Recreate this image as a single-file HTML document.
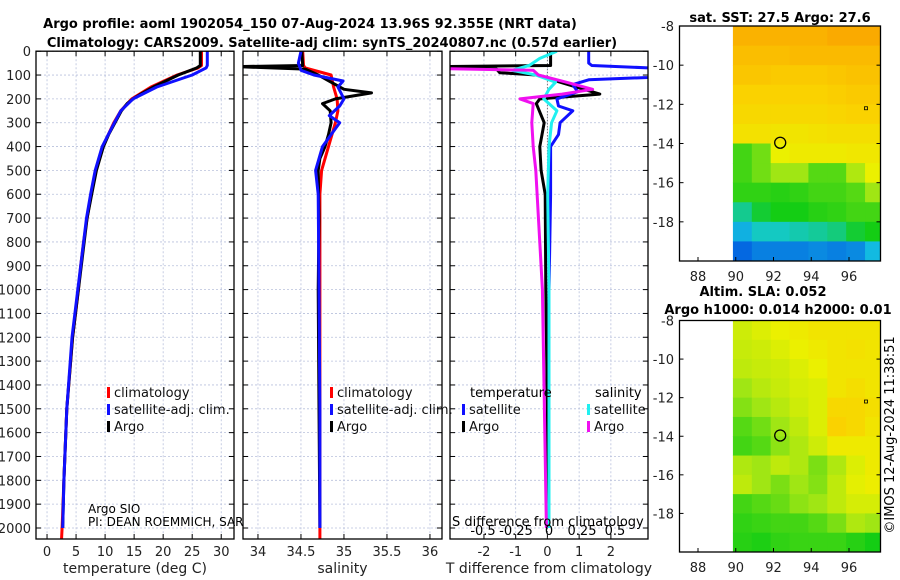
<!DOCTYPE html>
<html><head><meta charset="utf-8"><style>
body{margin:0;background:#fff;width:900px;height:580px;overflow:hidden}
svg{font-family:"DejaVu Sans","Liberation Sans",sans-serif;display:block}
</style></head><body>
<svg id="c" width="900" height="580" viewBox="0 0 900 580">
<text x="310" y="28" text-anchor="middle" font-weight="bold" font-size="13">Argo profile: aoml 1902054_150 07-Aug-2024 13.96S 92.355E (NRT data)</text>
<text x="332" y="47" text-anchor="middle" font-weight="bold" font-size="13">Climatology: CARS2009. Satellite-adj clim: synTS_20240807.nc (0.57d earlier)</text>
<text x="780" y="22" text-anchor="middle" font-weight="bold" font-size="13">sat. SST: 27.5 Argo: 27.6</text>
<text x="763" y="296" text-anchor="middle" font-weight="bold" font-size="13">Altim. SLA: 0.052</text>
<text x="778" y="314" text-anchor="middle" font-weight="bold" font-size="13">Argo h1000: 0.014 h2000: 0.01</text>
<text transform="translate(894,435) rotate(-90)" text-anchor="middle" font-size="13">©IMOS 12-Aug-2024 11:38:51</text>
<g id="g"></g>
</svg>
<script>
// ---- data ----
const depthTicks=[0,100,200,300,400,500,600,700,800,900,1000,1100,1200,1300,1400,1500,1600,1700,1800,1900,2000];
const tempTicks=[0,5,10,15,20,25,30];
const salTicks=[34,34.5,35,35.5,36];
const salTickLabels=["34","34.5","35","35.5","36"];
const tdiffTicks=[-2,-1,0,1,2];
const sdiffTicks=[-0.5,-0.25,0,0.25,0.5];
const sdiffTickLabels=["-0.5","-0.25","0","0.25","0.5"];
const argoDepth=[0,60,70,100,150,175,200,220,250,300,350,400,500,600,700,800,900,1000,1200,1500,1800,2000];
const argoTemp=[26.4,26.4,25.8,22.6,18.3,16.5,14.8,13.8,12.8,11.7,10.6,9.7,8.5,7.7,6.9,6.4,5.9,5.4,4.4,3.4,2.9,2.7];
const climDepth=[0,60,70,100,150,200,250,300,400,500,600,700,800,900,1000,1200,1500,1800,2000,2050];
const climTemp=[26.6,26.6,26.0,22.4,17.9,14.6,12.7,11.5,9.6,8.4,7.6,6.9,6.3,5.8,5.4,4.4,3.4,2.9,2.6,2.5];
const satTemp=[27.6,27.6,27.4,25.0,18.9,14.8,12.7,11.6,9.5,8.3,7.5,6.8,6.3,5.8,5.3,4.3,3.4,2.9,2.7,null];
const argoSDepth=[0,60,64,66,75,100,130,160,175,200,220,250,300,350,400,450,500,700,1000,1500,2000];
const argoSal=[34.51,34.52,33.83,33.83,34.55,34.7,34.85,35.0,35.32,34.9,34.75,34.84,34.85,34.82,34.78,34.72,34.70,34.71,34.70,34.71,34.72];
const climSDepth=[0,60,70,100,150,200,250,300,400,500,600,1000,1500,2000,2050];
const climSal=[34.52,34.53,34.55,34.85,34.88,34.92,34.93,34.9,34.82,34.74,34.72,34.72,34.72,34.72,34.72];
const satSDepth=[0,50,80,100,125,150,200,230,270,300,350,400,500,600,1000,1500,2000];
const satSal=[34.5,34.47,34.5,34.65,34.99,34.93,35.0,34.95,34.83,34.95,34.85,34.75,34.67,34.7,34.71,34.72,34.72];
const dDepth=[0,60,64,66,75,90,100,130,180,200,220,300,400,500,600,1000,1500,2000];
const tdiffArgo=[0.1,0.1,-3.1,-3.1,-1.6,-1.5,-0.34,0.4,1.65,-0.24,-0.35,-0.1,-0.24,-0.2,-0.07,-0.05,0,0];
const tdSatDepth=[0,50,60,70,100,110,120,140,170,200,230,250,300,350,400,600,1000,2000];
const tdiffSat=[1.3,1.3,1.4,3.2,3.2,3.2,1.3,0.8,0.95,0.3,0.35,0.8,0.4,0.35,0.1,0.1,0.05,0.05];
const sdSatDepth=[0,30,60,80,100,130,160,200,250,300,400,600,1000,2000];
const sdiffSat=[0.06,-0.07,-0.15,-0.28,-0.1,0.05,0.0,-0.04,0.06,0.02,0.0,-0.01,0,0];
const sdArgoDepth=[64,66,80,100,130,160,180,200,220,300,400,500,1000,2000];
const sdiffArgo=[-1.5,-1.5,-0.12,-0.08,0.13,0.33,0.1,-0.22,-0.12,-0.13,-0.12,-0.1,-0.05,-0.02];
const lonTicks=[88,90,92,94,96];
const latTicks=[-8,-10,-12,-14,-16,-18];
const gridLons=[89.85,90.85,91.85,92.85,93.85,94.85,95.85,96.85];
const gridLats=[-8,-9,-10,-11,-12,-13,-14,-15,-16,-17,-18,-19];
const sstGrid=[
[.88,.88,.88,.88,.88,.9,.9,.9],[.85,.85,.85,.86,.86,.86,.86,.86],[.83,.83,.82,.82,.82,.83,.84,.84],
[.8,.8,.8,.8,.8,.81,.82,.82],[.78,.78,.78,.78,.78,.79,.8,.8],[.75,.75,.74,.74,.75,.76,.76,.76],
[.5,.55,.7,.72,.72,.72,.73,.73],[.5,.55,.6,.6,.52,.52,.62,.7],[.48,.48,.47,.48,.5,.5,.52,.6],
[.33,.42,.45,.45,.47,.48,.5,.5],[.2,.28,.28,.3,.32,.35,.42,.45],[.05,.1,.1,.1,.12,.1,.12,.22]];
const slaGrid=[
[.66,.68,.7,.72,.74,.74,.74,.74],[.65,.66,.68,.7,.72,.74,.75,.74],[.64,.65,.66,.68,.7,.74,.74,.74],
[.6,.63,.65,.67,.68,.74,.76,.74],[.57,.6,.63,.66,.68,.78,.78,.76],[.52,.55,.6,.64,.68,.8,.78,.74],
[.5,.52,.58,.62,.66,.72,.72,.72],[.62,.6,.64,.62,.56,.62,.68,.72],[.64,.6,.56,.6,.57,.64,.69,.71],
[.5,.52,.54,.58,.6,.64,.67,.67],[.48,.49,.5,.5,.52,.56,.62,.6],[.47,.46,.48,.49,.49,.49,.47,.45]];
const argoLon=92.355, argoLat=-13.96;

// ---- helpers ----
const NS="http://www.w3.org/2000/svg";const G=document.getElementById('g');
function el(t,a,p){const e=document.createElementNS(NS,t);for(const k in a)e.setAttribute(k,a[k]);(p||G).appendChild(e);return e;}
const yTop=51.2,pxm=0.2384,yBot=539;
const y=d=>yTop+d*pxm;
function lin(d0,d1,r0,r1){return v=>r0+(v-d0)/(d1-d0)*(r1-r0);}
const panels=[
 {x0:36,x1:234,sx:lin(-1.9,32.2,36,234),ticks:tempTicks,labels:tempTicks.map(String),title:'temperature (deg C)',name:'temperature'},
 {x0:243,x1:442,sx:lin(33.826,36.14,243,442),ticks:salTicks,labels:salTickLabels,title:'salinity',name:'salinity'},
 {x0:450,x1:648,sx:lin(-3.07,3.17,450,648),ticks:tdiffTicks,labels:tdiffTicks.map(String),title:'T difference from climatology',name:'difference'}];
const sS=lin(-1.5,1.5,351,747);
const ct=el('clipPath',{id:'ct'});el('rect',{x:0,y:500,width:243,height:40},ct);
panels.forEach((P,i)=>{
 const cp=el('clipPath',{id:'cp'+i});el('rect',{x:P.x0,y:yTop,width:P.x1-P.x0,height:yBot-yTop},cp);
 const r=el('rect',{x:P.x0,y:yTop,width:P.x1-P.x0,height:yBot-yTop,fill:'#fff'});
 
 
 depthTicks.forEach(d=>{el('line',{x1:P.x0,x2:P.x1,y1:y(d),y2:y(d),stroke:'#b8c0dc','stroke-dasharray':'2,2','stroke-width':0.8});
  el('line',{x1:P.x0,x2:P.x0+5,y1:y(d),y2:y(d),stroke:'#000'});el('line',{x1:P.x1-5,x2:P.x1,y1:y(d),y2:y(d),stroke:'#000'});});
 P.ticks.forEach((tv,j)=>{const X=P.sx(tv);
  el('line',{x1:X,x2:X,y1:yTop,y2:yBot,stroke:'#b8c0dc','stroke-dasharray':'2,2','stroke-width':0.8});
  el('line',{x1:X,x2:X,y1:yBot,y2:yBot-5,stroke:'#000'});el('line',{x1:X,x2:X,y1:yTop,y2:yTop+5,stroke:'#000'});
  const tx=el('text',{x:X,y:556,'text-anchor':'middle','font-size':13,fill:'#222'});tx.textContent=P.labels[j];
  
  });
 const tt=el('text',{x:(P.x0+P.x1)/2,y:573,'text-anchor':'middle','font-size':14,fill:'#222'});tt.textContent=P.title;
 
 
});
depthTicks.forEach(d=>{const tl=el('text',{x:31,y:y(d)+5,'text-anchor':'end','font-size':13,fill:'#222'});tl.textContent=d;
 
 });
function line(ds,vs,sx,col,clip,name,w){let p='',pen=false;ds.forEach((d,k)=>{const v=vs[k];if(v==null){pen=false;return;}p+=(pen?'L':'M')+sx(v).toFixed(1)+','+y(d).toFixed(1);pen=true;});
 const e=el('path',{d:p,fill:'none',stroke:col,'stroke-width':w||3,'clip-path':'url(#cp'+clip+')','stroke-linejoin':'round'});
 
 }
const P0=panels[0].sx,P1=panels[1].sx,P2=panels[2].sx;
line(climDepth,climTemp,P0,'#f00',0,'temp-climatology-line');
line(argoDepth,argoTemp,P0,'#000',0,'temp-argo-line');
line(climDepth,satTemp,P0,'#1010ff',0,'temp-satellite-line');
line(climSDepth,climSal,P1,'#f00',1,'sal-climatology-line');
line(argoSDepth,argoSal,P1,'#000',1,'sal-argo-line');
line(satSDepth,satSal,P1,'#1010ff',1,'sal-satellite-line');
el('line',{x1:P2(0),x2:P2(0),y1:yTop,y2:yBot,stroke:'#555','stroke-dasharray':'1,2'});
line(dDepth,tdiffArgo,P2,'#000',2,'tdiff-argo-line');
line(tdSatDepth,tdiffSat,P2,'#1010ff',2,'tdiff-satellite-line');
line(sdSatDepth,sdiffSat,sS,'#20f0f0',2,'sdiff-satellite-line');
line(sdArgoDepth,sdiffArgo,sS,'#f010f0',2,'sdiff-argo-line');
panels.forEach(P=>{el('rect',{x:P.x0,y:yTop,width:P.x1-P.x0,height:yBot-yTop,fill:'none',stroke:'#000','stroke-width':1.3});});
function leg(x,yy,col,txt,name){el('rect',{x:x-3,y:yy-10,width:3,height:11,fill:col});const lt=el('text',{x:x+4,y:yy,'font-size':13,fill:'#111'});lt.textContent=txt;
 
 }
leg(110,397,'#f00','climatology','legend-climatology');leg(110,414,'#1010ff','satellite-adj. clim.','legend-satellite-adj');leg(110,431,'#000','Argo','legend-argo');
leg(333,397,'#f00','climatology','legend-sal-climatology');leg(333,414,'#1010ff','satellite-adj. clim.','legend-sal-satellite-adj');leg(333,431,'#000','Argo','legend-sal-argo');
let tx2=el('text',{x:470,y:397,'font-size':13});tx2.textContent='temperature';


tx2=el('text',{x:595,y:397,'font-size':13});tx2.textContent='salinity';


leg(465,414,'#1010ff','satellite','legend-tdiff-satellite');leg(465,431,'#000','Argo','legend-tdiff-argo');
leg(590,414,'#20f0f0','satellite','legend-sdiff-satellite');leg(590,431,'#f010f0','Argo','legend-sdiff-argo');
tx2=el('text',{x:88,y:513,'font-size':12});tx2.textContent='Argo SIO';


tx2=el('text',{x:88,y:526,'font-size':12,'clip-path':'url(#ct)'});tx2.textContent='PI: DEAN ROEMMICH, SARAH PURKEY';


tx2=el('text',{x:452,y:526,'font-size':13});tx2.textContent='S difference from climatology';


sdiffTicks.forEach((s,j)=>{const q=el('text',{x:sS(s),y:535,'text-anchor':'middle','font-size':13});q.textContent=sdiffTickLabels[j];
 
 });
const stops=[[0,[0,80,225]],[0.25,[20,200,225]],[0.45,[20,205,20]],[0.6,[160,230,20]],[0.7,[235,240,0]],[0.8,[250,210,0]],[0.9,[250,170,0]],[1,[245,130,0]]];
function cmap(v){for(let i=1;i<stops.length;i++)if(v<=stops[i][0]){const a=stops[i-1],b=stops[i],f=(v-a[0])/(b[0]-a[0]);return 'rgb('+a[1].map((c,k)=>Math.round(c+(b[1][k]-c)*f)).join(',')+')';}return 'rgb(245,130,0)';}
const mapX0=679.5,mapX1=880.5;
function drawMap(y0,y1,grid,name,k){const sx=lin(88,96,698,849),sy=lin(-8,-20,y0,y1);
 const cp=el('clipPath',{id:'mc'+k});el('rect',{x:mapX0,y:y0,width:mapX1-mapX0,height:y1-y0},cp);
 const gg=el('g',{'clip-path':'url(#mc'+k+')'});
 
 
 gridLats.forEach((la,r)=>gridLons.forEach((lo,c)=>{const e=el('rect',{x:sx(lo),y:sy(la),width:sx(lo+1)-sx(lo)+0.5,height:sy(la-1)-sy(la)+0.5,fill:cmap(grid[r][c])},gg);
  
  }));
 el('rect',{x:mapX0,y:y0,width:mapX1-mapX0,height:y1-y0,fill:'none',stroke:'#000','stroke-width':1.3});
 lonTicks.forEach(l=>{el('line',{x1:sx(l),x2:sx(l),y1:y1,y2:y1-4,stroke:'#000'});const q=el('text',{x:sx(l),y:y1+20,'text-anchor':'middle','font-size':13,fill:'#222'});q.textContent=l;
  
  });
 latTicks.forEach(l=>{el('line',{x1:mapX0,x2:mapX0+4,y1:sy(l),y2:sy(l),stroke:'#000'});el('line',{x1:mapX1-4,x2:mapX1,y1:sy(l),y2:sy(l),stroke:'#000'});
  const q=el('text',{x:674,y:sy(l)+5,'text-anchor':'end','font-size':13,fill:'#222'});q.textContent=l;
  
  });
 const m=el('circle',{cx:sx(argoLon),cy:sy(argoLat),r:5.5,fill:'none',stroke:'#000','stroke-width':1.3});
 
 
 el('rect',{x:sx(96.9)-1.5,y:sy(-12.2)-1.5,width:3,height:3,fill:'none',stroke:'#000','stroke-width':0.8});}
drawMap(26,261,sstGrid,'sst-map',0);drawMap(320.5,552,slaGrid,'sla-map',1);
</script>
</body></html>
